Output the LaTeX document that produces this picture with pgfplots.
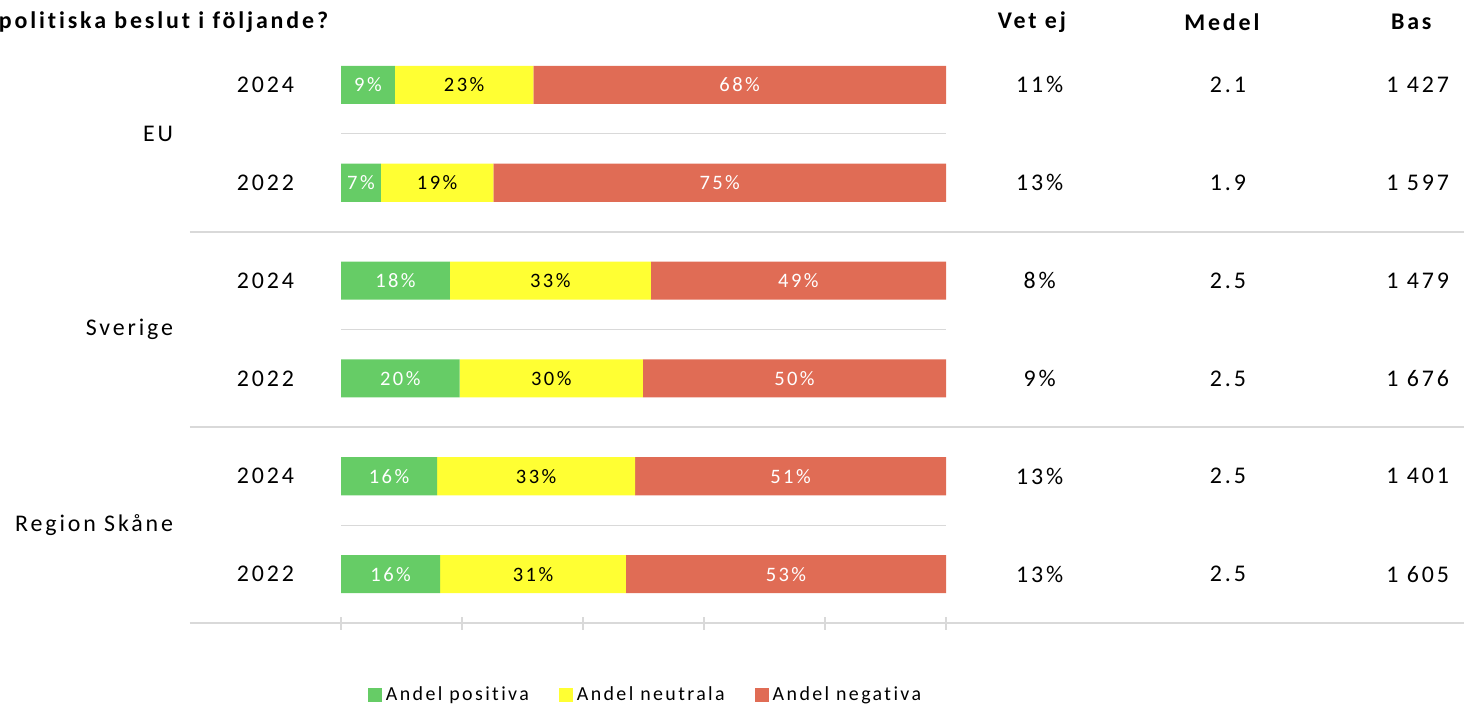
\documentclass[border=0pt]{standalone}
\usepackage{pgfplots}
\pgfplotsset{compat=1.18}
\usepackage{pgfplotstable}
\usepackage{fontspec}
\setmainfont{Carlito}[LetterSpace=12, Ligatures=NoCommon]
\definecolor{posGreen}{RGB}{102,204,102}
\definecolor{neuYellow}{RGB}{255,255,51}
\definecolor{negRed}{RGB}{224,108,85}
\definecolor{sepGray}{RGB}{217,217,217}

% andel positiva / neutrala / negativa per rad (0 = EU 2024 ... 5 = Region Skåne 2022)
\pgfplotstableread{
row pos  neu  neg
0   8.9  22.9 68.2
1   6.6  18.6 74.8
2   18.0 33.2 48.8
3   19.6 30.3 50.1
4   15.9 32.7 51.4
5   16.4 30.7 52.9
}\shares

\begin{document}
\begin{tikzpicture}
\useasboundingbox (0bp,0bp) rectangle (732bp,353bp);
\begin{axis}[
    at={(170.5bp,41.5bp)}, anchor=south west,
    scale only axis, width=302.5bp, height=293.5bp,
    xbar stacked, bar width=0.389,
    xmin=0, xmax=100, ymin=-0.5, ymax=5.5, y dir=reverse,
    clip=false,
    axis line style={draw=none},
    xtick={0,20,...,100}, xticklabels={}, xtick pos=bottom,
    ytick=\empty,
    tick align=center, major tick length=6.5bp,
    tick style={sepGray, line width=1pt},
    point meta=explicit,
    nodes near coords={\pgfmathprintnumber[fixed,precision=0,assume math mode=true]{\pgfplotspointmeta}\%},
    every node near coord/.append style={anchor=center, font=\fontsize{10.3}{12}\selectfont},
    legend columns=-1,
    legend style={at={(0.505,-0.1227)}, anchor=center, draw=none, fill=none,
        font=\fontsize{10}{12}\selectfont, inner sep=0pt,
        /tikz/every even column/.append style={column sep=13bp}},
    legend image code/.code={\fill[#1] (0bp,-3.5bp) rectangle (7bp,3.5bp);},
]
\addplot[fill=posGreen, draw=none, nodes near coords style={text=white}]
    table[x=pos, y=row, meta=pos] {\shares};
\addplot[fill=neuYellow, draw=none, nodes near coords style={text=black}]
    table[x=neu, y=row, meta=neu] {\shares};
\addplot[fill=negRed, draw=none, nodes near coords style={text=white}]
    table[x=neg, y=row, meta=neg] {\shares};
\legend{Andel positiva, Andel neutrala, Andel negativa}

% separator lines
\draw[sepGray, line width=0.6pt] (axis cs:0,0.5) -- (axis cs:100,0.5);
\draw[sepGray, line width=0.6pt] (axis cs:0,2.5) -- (axis cs:100,2.5);
\draw[sepGray, line width=0.6pt] (axis cs:0,4.5) -- (axis cs:100,4.5);
\draw[sepGray, line width=1pt] (axis cs:-24.96,1.5) -- (axis cs:185.6,1.5);
\draw[sepGray, line width=1pt] (axis cs:-24.96,3.5) -- (axis cs:185.6,3.5);
\draw[sepGray, line width=1pt] (axis cs:-24.96,5.5) -- (axis cs:185.6,5.5);

% title and column heads
\node[anchor=west, font=\bfseries\fontsize{12}{14}\selectfont] at (axis cs:-57.7,-0.644) {politiska beslut i följande?};
\node[font=\bfseries\fontsize{12}{14}\selectfont] at (axis cs:114.2,-0.644) {Vet ej};
\node[font=\bfseries\fontsize{12}{14}\selectfont] at (axis cs:145.6,-0.644) {Medel};
\node[font=\bfseries\fontsize{12}{14}\selectfont] at (axis cs:176.9,-0.644) {Bas};

% group and year labels
\node[anchor=east, font=\fontsize{12}{14}\selectfont] at (axis cs:-26.6,0.5) {EU};
\node[anchor=east, font=\fontsize{12}{14}\selectfont] at (axis cs:-26.6,2.5) {Sverige};
\node[anchor=east, font=\fontsize{12}{14}\selectfont] at (axis cs:-26.6,4.5) {Region Skåne};
\node[anchor=east, font=\fontsize{12}{14}\selectfont] at (axis cs:-6.6,0) {2024};
\node[anchor=east, font=\fontsize{12}{14}\selectfont] at (axis cs:-6.6,1) {2022};
\node[anchor=east, font=\fontsize{12}{14}\selectfont] at (axis cs:-6.6,2) {2024};
\node[anchor=east, font=\fontsize{12}{14}\selectfont] at (axis cs:-6.6,3) {2022};
\node[anchor=east, font=\fontsize{12}{14}\selectfont] at (axis cs:-6.6,4) {2024};
\node[anchor=east, font=\fontsize{12}{14}\selectfont] at (axis cs:-6.6,5) {2022};

% Vet ej
\node[font=\fontsize{12}{14}\selectfont] at (axis cs:115.5,0) {11\%};
\node[font=\fontsize{12}{14}\selectfont] at (axis cs:115.5,1) {13\%};
\node[font=\fontsize{12}{14}\selectfont] at (axis cs:115.5,2) {8\%};
\node[font=\fontsize{12}{14}\selectfont] at (axis cs:115.5,3) {9\%};
\node[font=\fontsize{12}{14}\selectfont] at (axis cs:115.5,4) {13\%};
\node[font=\fontsize{12}{14}\selectfont] at (axis cs:115.5,5) {13\%};
% Medel
\node[font=\fontsize{12}{14}\selectfont] at (axis cs:146.6,0) {2.1};
\node[font=\fontsize{12}{14}\selectfont] at (axis cs:146.6,1) {1.9};
\node[font=\fontsize{12}{14}\selectfont] at (axis cs:146.6,2) {2.5};
\node[font=\fontsize{12}{14}\selectfont] at (axis cs:146.6,3) {2.5};
\node[font=\fontsize{12}{14}\selectfont] at (axis cs:146.6,4) {2.5};
\node[font=\fontsize{12}{14}\selectfont] at (axis cs:146.6,5) {2.5};
% Bas
\node[anchor=east, font=\fontsize{12}{14}\selectfont] at (axis cs:184.3,0) {1 427};
\node[anchor=east, font=\fontsize{12}{14}\selectfont] at (axis cs:184.3,1) {1 597};
\node[anchor=east, font=\fontsize{12}{14}\selectfont] at (axis cs:184.3,2) {1 479};
\node[anchor=east, font=\fontsize{12}{14}\selectfont] at (axis cs:184.3,3) {1 676};
\node[anchor=east, font=\fontsize{12}{14}\selectfont] at (axis cs:184.3,4) {1 401};
\node[anchor=east, font=\fontsize{12}{14}\selectfont] at (axis cs:184.3,5) {1 605};
\end{axis}
\end{tikzpicture}
\end{document}
